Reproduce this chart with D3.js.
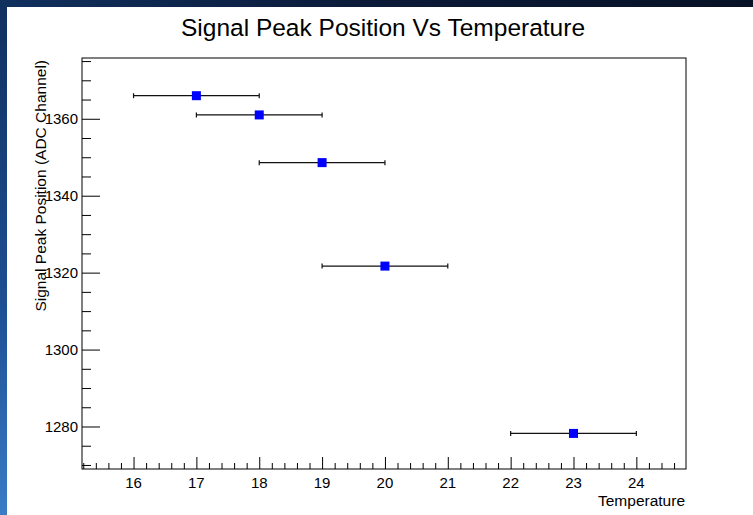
<!DOCTYPE html>
<html>
<head>
<meta charset="utf-8">
<script src="https://cdn.jsdelivr.net/npm/d3@7"></script>
<style>
  html, body { margin: 0; padding: 0; background: #ffffff; }
  svg { display: block; }
  text { font-family: "Liberation Sans", Arial, Helvetica, sans-serif; fill: #000; }
</style>
</head>
<body>
<svg id="chart" width="753" height="515"></svg>
<script>
// Measured peak positions at each temperature, with a temperature uncertainty of ±1
const temperatures = [17, 18, 19, 20, 23];
const peakPositions = [1366.0, 1361.0, 1348.6, 1321.7, 1278.2];
const temperatureErrors = [1, 1, 1, 1, 1];

const xMajorTicks = [16, 17, 18, 19, 20, 21, 22, 23, 24];
const yMajorTicks = [1280, 1300, 1320, 1340, 1360];

(function draw() {
  const svg = d3.select("#chart");
  const W = 753, H = 515;

  // Window backdrop: dark-blue strips along the top and left edges
  const defs = svg.append("defs");
  const gTop = defs.append("linearGradient").attr("id", "topBand")
    .attr("x1", 0).attr("x2", 1).attr("y1", 0).attr("y2", 0);
  gTop.append("stop").attr("offset", 0).attr("stop-color", "#10305e");
  gTop.append("stop").attr("offset", 0.5).attr("stop-color", "#0b1a38");
  gTop.append("stop").attr("offset", 1).attr("stop-color", "#081226");
  const gLeft = defs.append("linearGradient").attr("id", "leftBand")
    .attr("x1", 0).attr("x2", 0).attr("y1", 0).attr("y2", 1);
  gLeft.append("stop").attr("offset", 0).attr("stop-color", "#10305e");
  gLeft.append("stop").attr("offset", 0.6).attr("stop-color", "#1d4f94");
  gLeft.append("stop").attr("offset", 1).attr("stop-color", "#3a7cc6");
  svg.append("rect").attr("x", 0).attr("y", 0).attr("width", W).attr("height", 7).attr("fill", "url(#topBand)");
  svg.append("rect").attr("x", 0).attr("y", 0).attr("width", 7).attr("height", H).attr("fill", "url(#leftBand)");

  // Plot frame
  const fLeft = 82, fRight = 686, fTop = 58, fBottom = 469;
  const x = d3.scaleLinear().domain([15.18, 24.79]).range([fLeft, fRight]);
  const y = d3.scaleLinear().domain([1268.95, 1375.8]).range([fBottom, fTop]);

  svg.append("rect").attr("x", fLeft).attr("y", fTop)
    .attr("width", fRight - fLeft).attr("height", fBottom - fTop)
    .attr("fill", "none").attr("stroke", "#000").attr("stroke-width", 1);

  // X axis: major ticks every 1, minor every 0.2, drawn inward
  const xMinor = d3.range(15.2, 24.79, 0.2).map(v => +v.toFixed(1))
    .filter(v => !xMajorTicks.includes(v));
  const xAxisMinor = d3.axisTop(x).tickValues(xMinor).tickSize(6).tickFormat("");
  const xAxisMajor = d3.axisTop(x).tickValues(xMajorTicks).tickSize(12).tickFormat("");
  [xAxisMinor, xAxisMajor].forEach(ax => {
    const g = svg.append("g").attr("transform", `translate(0,${fBottom})`).call(ax);
    g.select(".domain").remove();
    g.selectAll("line").attr("stroke", "#000");
  });
  svg.append("g").selectAll("text").data(xMajorTicks).join("text")
    .attr("x", d => x(d)).attr("y", 487.5)
    .attr("text-anchor", "middle").attr("font-size", 15).text(d => d);

  // Y axis: major ticks every 20, minor every 5, drawn inward
  const yMinor = d3.range(1270, 1376, 5).filter(v => !yMajorTicks.includes(v));
  const yAxisMinor = d3.axisRight(y).tickValues(yMinor).tickSize(9).tickFormat("");
  const yAxisMajor = d3.axisRight(y).tickValues(yMajorTicks).tickSize(18).tickFormat("");
  [yAxisMinor, yAxisMajor].forEach(ax => {
    const g = svg.append("g").attr("transform", `translate(${fLeft},0)`).call(ax);
    g.select(".domain").remove();
    g.selectAll("line").attr("stroke", "#000");
  });
  svg.append("g").selectAll("text").data(yMajorTicks).join("text")
    .attr("x", 78).attr("y", d => y(d) + 5.5)
    .attr("text-anchor", "end").attr("font-size", 15).text(d => d);

  // Titles
  svg.append("text").attr("x", 383).attr("y", 36)
    .attr("text-anchor", "middle").attr("font-size", 24.5)
    .text("Signal Peak Position Vs Temperature");
  svg.append("text").attr("x", 685).attr("y", 506)
    .attr("text-anchor", "end").attr("font-size", 15.5)
    .text("Temperature");
  svg.append("text")
    .attr("transform", `translate(46,${fTop + 2}) rotate(-90)`)
    .attr("text-anchor", "end").attr("font-size", 15.5)
    .text("Signal Peak Position (ADC Channel)");

  // Horizontal error bars with end caps
  const pts = temperatures.map((t, i) => ({ t, v: peakPositions[i], e: temperatureErrors[i] }));
  const eb = svg.append("g").attr("stroke", "#111").attr("stroke-width", 1.2);
  eb.selectAll("line.bar").data(pts).join("line").attr("class", "bar")
    .attr("x1", d => x(d.t - d.e)).attr("x2", d => x(d.t + d.e))
    .attr("y1", d => y(d.v)).attr("y2", d => y(d.v));
  eb.selectAll("line.capL").data(pts).join("line").attr("class", "capL")
    .attr("x1", d => x(d.t - d.e)).attr("x2", d => x(d.t - d.e))
    .attr("y1", d => y(d.v) - 2.5).attr("y2", d => y(d.v) + 2.5);
  eb.selectAll("line.capR").data(pts).join("line").attr("class", "capR")
    .attr("x1", d => x(d.t + d.e)).attr("x2", d => x(d.t + d.e))
    .attr("y1", d => y(d.v) - 2.5).attr("y2", d => y(d.v) + 2.5);

  // Square markers
  const ms = 9;
  svg.append("g").selectAll("rect").data(pts).join("rect")
    .attr("x", d => x(d.t) - ms / 2).attr("y", d => y(d.v) - ms / 2)
    .attr("width", ms).attr("height", ms).attr("fill", "#0000ff");
})();
</script>
</body>
</html>
